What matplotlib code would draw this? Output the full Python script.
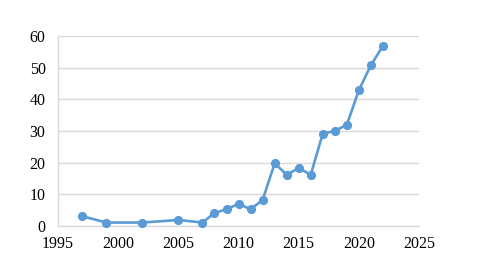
import matplotlib
matplotlib.use('Agg')
import matplotlib.pyplot as plt

# Data ########################################################################
years = [1997, 1999, 2002, 2005, 2007, 2008, 2009, 2010, 2011, 2012,
         2013, 2014, 2015, 2016, 2017, 2018, 2019, 2020, 2021, 2022]
counts = [3.1, 1.1, 1.1, 1.9, 1.1, 4.1, 5.3, 7.0, 5.3, 8.2,
          19.8, 16.2, 18.3, 16.2, 29.2, 30.0, 32.0, 42.9, 50.8, 56.9]
xticks = [1995, 2000, 2005, 2010, 2015, 2020, 2025]
yticks = [0, 10, 20, 30, 40, 50, 60]

BLUE = '#5B9BD5'
GRID = '#D9D9D9'

plt.rcParams['font.family'] = ['Liberation Serif', 'DejaVu Serif']

fig = plt.figure(figsize=(4.8, 2.71), dpi=100)
ax = fig.add_axes([0.121, 0.166, 0.752, 0.701])
ax.plot(years, counts, color=BLUE, linewidth=1.9, marker='o',
        markersize=5.6, zorder=3, clip_on=False)

ax.set_xlim(1995, 2025)
ax.set_ylim(0, 60)
ax.set_xticks(xticks)
ax.set_yticks(yticks)
ax.yaxis.grid(True, color=GRID, linewidth=1)
ax.set_axisbelow(True)
for s in ['top', 'right']:
    ax.spines[s].set_visible(False)
ax.spines['left'].set_color(GRID)
ax.spines['bottom'].set_color(GRID)
ax.spines['left'].set_linewidth(1)
ax.spines['bottom'].set_linewidth(1)
ax.tick_params(axis='both', length=0, labelsize=11.5, colors='black')
ax.tick_params(axis='x', pad=7)
ax.tick_params(axis='y', pad=9)

plt.savefig('out.png', dpi=100)
plt.close()
